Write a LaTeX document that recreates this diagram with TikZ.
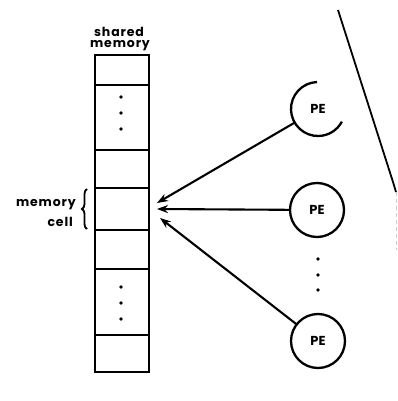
\documentclass[tikz,border=0pt]{standalone}
\usepackage{fontspec}
\setmainfont{Poppins}
\usetikzlibrary{arrows.meta,decorations.pathreplacing}

\begin{document}
\begin{tikzpicture}[x=1pt,y=1pt,
  cell/.style={draw, line width=2.2pt, minimum width=54pt, inner sep=0pt,
               outer sep=0pt, anchor=north west},
  dotmark/.style={circle, fill, inner sep=0pt, minimum size=3.6pt},
  pe/.style={circle, line width=2.3pt, minimum size=54pt, inner sep=0pt,
             outer sep=0pt, font=\fontsize{13}{13}\selectfont\bfseries},
  lbl/.style={font=\fontsize{12.5}{12.5}\selectfont\bfseries\addfontfeatures{LetterSpace=7},
              inner sep=0pt},
  arr/.style={line width=2.1pt, -{Stealth[length=11pt,width=8pt]}}
]
\useasboundingbox (0,0) rectangle (397,-401);

% shared memory column
\node[cell, minimum height=30pt] (c1) at (95,-55)  {};
\node[cell, minimum height=65pt] (c2) at (95,-85)  {};
\node[cell, minimum height=38pt] (c3) at (95,-150) {};
\node[cell, minimum height=42pt] (c4) at (95,-188) {};
\node[cell, minimum height=39pt] (c5) at (95,-230) {};
\node[cell, minimum height=66pt] (c6) at (95,-269) {};
\node[cell, minimum height=37pt] (c7) at (95,-335) {};

% ellipsis dots inside the column
\foreach \y [count=\i] in {-97,-113,-129} \node[dotmark] (da\i) at (121,\y) {};
\foreach \y [count=\i] in {-287,-303,-319} \node[dotmark] (db\i) at (121,\y) {};

% column title
\node[lbl, anchor=base] (t1) at (119,-37) {shared};
\node[lbl, anchor=base] (t2) at (120,-48) {memory};

% memory cell label with brace
\node[lbl, anchor=base east] (m1) at (76,-206) {memory};
\node[lbl, anchor=base east] (m2) at (73,-226) {cell};
\draw[line width=1.8pt, decorate, decoration={brace, amplitude=5pt}]
  (87,-229) -- (87,-189);

% processing elements
\node[pe] (pe1) at (318,-109) {PE};
\draw[line width=2.3pt] (pe1.92) arc[start angle=92, end angle=332, radius=27pt];
\node[pe, draw] (pe2) at (317,-210) {PE};
\node[pe, draw] (pe3) at (318,-341) {PE};
\foreach \y [count=\i] in {-259,-275,-290} \node[dotmark] (dp\i) at (318,\y) {};

% arrow targets beside the memory cell
\coordinate (a1) at ([xshift=8pt,yshift=6pt]c4.east);
\coordinate (a2) at ([xshift=8pt]c4.east);
\coordinate (a3) at ([xshift=11pt,yshift=-9pt]c4.east);

\draw[arr] (pe1) -- (a1);
\draw[arr] (pe2) -- (a2);
\draw[arr] (pe3) -- (a3);

% boundary line at the right
\draw[line width=1.8pt] (338,-10) -- (393,-182) -- (396,-192);
\draw[gray!40, line width=0.6pt, dash pattern=on 4pt off 3pt] (396,-192) -- (396,-250);
\end{tikzpicture}
\end{document}
